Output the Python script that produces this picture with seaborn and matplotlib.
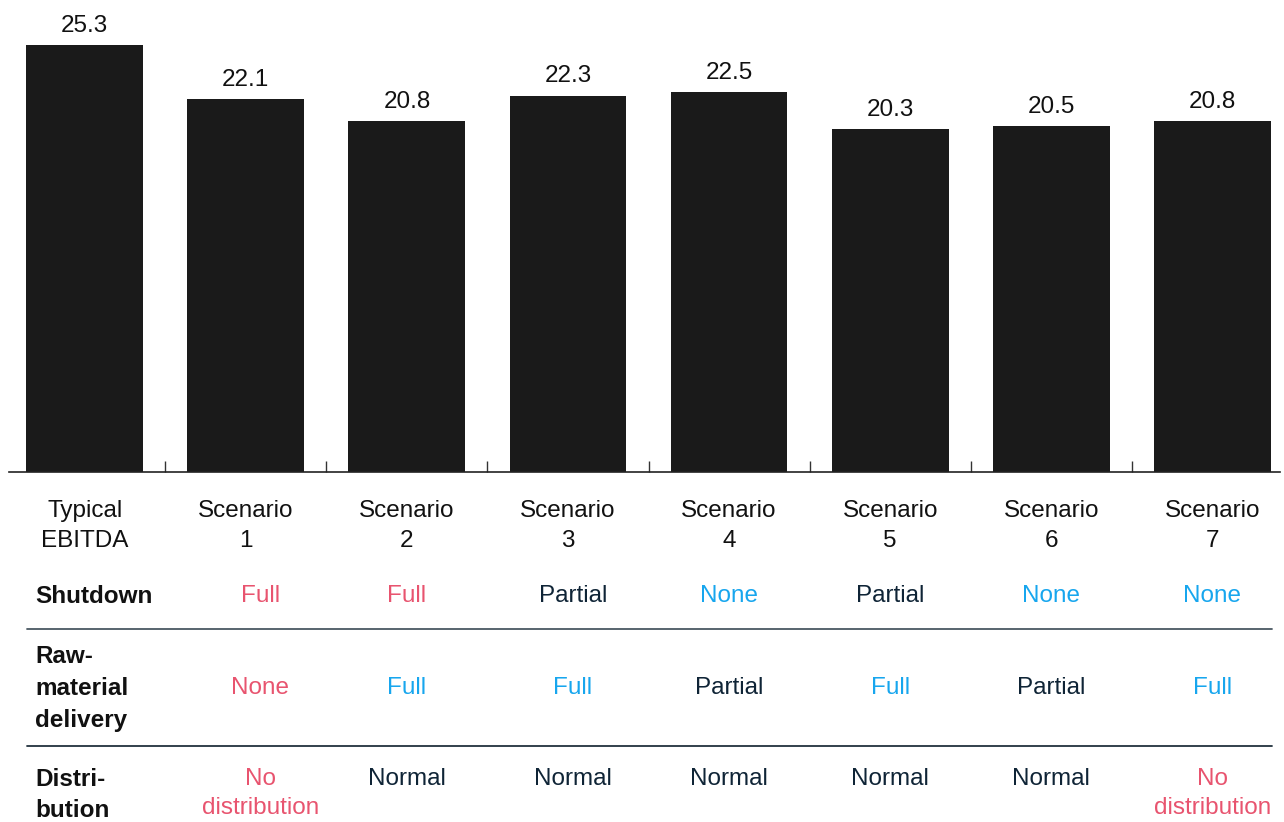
import matplotlib
matplotlib.use("Agg")
import matplotlib.pyplot as plt
import matplotlib.transforms as mtransforms
from matplotlib.lines import Line2D
import seaborn as sns

# chart data
categories = ["Typical\nEBITDA", "Scenario\n1", "Scenario\n2", "Scenario\n3",
              "Scenario\n4", "Scenario\n5", "Scenario\n6", "Scenario\n7"]
ebitda = [25.3, 22.1, 20.8, 22.3, 22.5, 20.3, 20.5, 20.8]

row_labels = ["Shutdown", "Raw-\nmaterial\ndelivery", "Distri-\nbution"]
shutdown = ["", "Full", "Full", "Partial", "None", "Partial", "None", "None"]
raw_material = ["", "None", "Full", "Full", "Partial", "Full", "Partial", "Full"]
distribution = ["", "No\ndistribution", "Normal", "Normal", "Normal",
                "Normal", "Normal", "No\ndistribution"]

RED, BLUE, NAVY = "#e8546f", "#17a6ee", "#0f2436"
shutdown_colors = {"Full": RED, "Partial": NAVY, "None": BLUE}
raw_colors = {"None": RED, "Partial": NAVY, "Full": BLUE}
dist_colors = {"No\ndistribution": RED, "Normal": NAVY}

sns.set_theme(style="white")
plt.rcParams["font.family"] = ["Liberation Sans", "DejaVu Sans"]
FS = 17.5
LS = 1.5

W, H = 1284, 822
fig = plt.figure(figsize=(W / 100, H / 100), dpi=100)
ax = fig.add_axes([9 / W, 1 - 472 / H, 1271 / W, 472 / H])

sns.barplot(x=categories, y=ebitda, color="#1a1a1a", saturation=1,
            width=0.725, linewidth=0, ax=ax)
ax.bar_label(ax.containers[0], fmt="%.1f", padding=6, fontsize=FS, color="#111111")

ax.set_xlim(-0.47, 7.42)
ax.set_ylim(0, 27.96)
ax.set_yticks([])
ax.set_ylabel("")
for s in ["top", "left", "right"]:
    ax.spines[s].set_visible(False)
ax.spines["bottom"].set_color("#222222")
ax.spines["bottom"].set_linewidth(1.2)

# category labels below the axis, separator ticks between bars
ax.tick_params(axis="x", which="major", length=0, pad=20, labelsize=FS,
               labelcolor="#111111")
for lbl in ax.get_xticklabels():
    lbl.set_linespacing(LS)
ax.set_xticks([i + 0.5 for i in range(len(categories) - 1)], minor=True)
ax.tick_params(axis="x", which="minor", direction="in", length=8, width=1,
               color="#333333", bottom=True)

# condition table
trans = mtransforms.blended_transform_factory(ax.transData, fig.transFigure)
col_shift = [0, 0.09, 0, 0.03, 0, 0, 0, 0]


def fy(py):
    return 1 - py / H


rows = [
    (shutdown, shutdown_colors, 596, "center", LS),
    (raw_material, raw_colors, 688, "center", LS),
    (distribution, dist_colors, 768, "top", 1.42),
]
for label, (values, cmap, py, va, ls) in zip(row_labels, rows):
    fig.text(35 / W, fy(py), label, fontsize=FS, fontweight="bold",
             color="#111111", ha="left", va=va, linespacing=ls)
    for i, v in enumerate(values):
        if not v:
            continue
        ax.text(i + col_shift[i], fy(py), v, transform=trans, fontsize=FS,
                color=cmap[v], ha="center", va=va, linespacing=ls, clip_on=False)

for py, c in [(629, "#4a5862"), (746, "#22323e")]:
    fig.add_artist(Line2D([27 / W, 1272 / W], [fy(py), fy(py)],
                          transform=fig.transFigure, color=c, linewidth=1.3))

fig.savefig("out.png", dpi=100)
